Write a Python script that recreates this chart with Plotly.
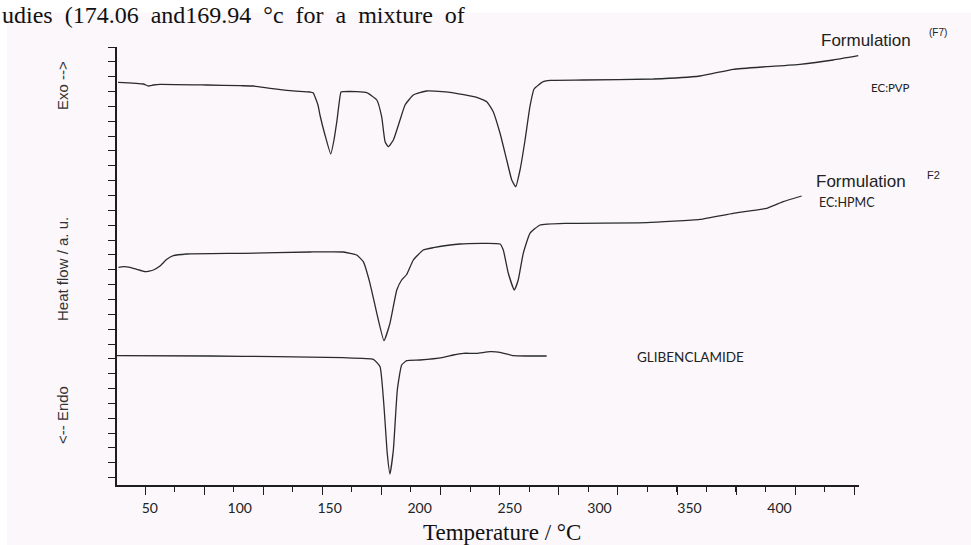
import plotly.graph_objects as go

# ---------------- data ----------------
# Formulation F7 (EC:PVP)
f7_temp = [32.4, 46.5, 49.2, 52.0, 55.7, 81.7, 100.2, 107.6, 116.9, 128.0, 139.1, 140.8,
           143.5, 144.6, 147.4, 150.6, 152.4, 154.1, 156.3, 157.6, 165.0, 170.6, 176.2,
           178.9, 180.8, 182.6, 185.4, 189.1, 191.9, 196.5, 203.9, 216.9, 231.7, 237.3,
           240.9, 244.7, 248.4, 251.2, 253.4, 255.8, 258.6, 261.3, 263.6, 268.7, 272.5,
           291.0, 329.9, 355.8, 374.3, 392.9, 411.4, 429.9, 443.8]
f7_heat = [40.27, 40.10, 39.90, 40.00, 40.07, 40.00, 39.93, 39.90, 39.67, 39.43, 39.30, 39.23,
           38.00, 37.00, 35.00, 33.10, 34.50, 36.50, 39.30, 39.33, 39.33, 39.23, 38.50,
           36.83, 34.33, 33.83, 34.50, 36.50, 38.00, 39.00, 39.40, 39.27, 38.77, 38.33,
           37.33, 35.17, 32.50, 30.50, 29.83, 31.50, 34.50, 37.83, 39.60, 40.33, 40.47,
           40.50, 40.60, 40.90, 41.57, 41.83, 42.07, 42.50, 42.93]

# Formulation F2 (EC:HPMC)
f2_temp = [32.6, 35.3, 39.1, 42.8, 47.4, 52.0, 55.7, 59.5, 63.1, 70.6, 102.0, 139.1, 157.6,
           165.0, 168.7, 172.4, 176.2, 180.2, 183.5, 187.3, 190.0, 192.8, 196.5, 202.0,
           207.6, 222.4, 244.7, 246.5, 249.3, 252.6, 254.8, 257.6, 261.3, 266.9, 281.7,
           326.2, 355.8, 374.3, 392.9, 402.1, 412.3]
f2_heat = [21.77, 21.83, 21.77, 21.57, 21.33, 21.50, 21.90, 22.57, 22.93, 23.10, 23.17, 23.30,
           23.30, 23.00, 22.33, 20.17, 17.17, 14.43, 16.17, 19.50, 20.50, 21.05, 22.50,
           23.50, 23.73, 24.10, 24.10, 23.50, 21.17, 19.50, 20.50, 23.17, 25.17, 26.00,
           26.17, 26.23, 26.57, 27.17, 27.67, 28.33, 28.90]

# Glibenclamide (pure drug)
gl_temp = [31.7, 83.5, 120.6, 157.6, 174.3, 178.0, 180.2, 182.0, 183.5, 185.4, 187.6, 190.0,
           192.8, 200.2, 213.2, 218.7, 224.3, 231.7, 239.1, 244.7, 252.1, 259.5, 270.6]
gl_heat = [12.93, 12.90, 12.83, 12.73, 12.57, 11.83, 7.83, 3.17, 1.10, 3.50, 9.50, 12.00,
           12.43, 12.50, 12.77, 13.00, 13.17, 13.17, 13.33, 13.27, 12.93, 12.90, 12.90]

x_label_vals = [50, 100, 150, 200, 250, 300, 350, 400]
x_label_text = ["50", "100", "150", "200", "250", "300", "350", "400"]

# ---------------- layout geometry ----------------
W, H = 971, 545
ML, MR, MT, MB = 117, 112, 47, 60
X_RANGE = [31.8, 444.2]
Y_RANGE = [0, 43.8]
PW = W - ML - MR
PH = H - MT - MB


def px_x(px):
    return (px - ML) / PW


def px_y(py):
    return (H - MB - py) / PH


LINE = "#2b2b2b"
AXIS = "#1e1e1e"

fig = go.Figure()
for xs, ys in [(f7_temp, f7_heat), (f2_temp, f2_heat), (gl_temp, gl_heat)]:
    fig.add_trace(go.Scatter(x=xs, y=ys, mode="lines",
                             line=dict(color=LINE, width=1.3, shape="spline", smoothing=0.4),
                             hoverinfo="skip", showlegend=False))

# invisible carrier so the label axis (xaxis2) is drawn
fig.add_trace(go.Scatter(x=x_label_vals, y=[None] * len(x_label_vals), xaxis="x2",
                         mode="markers", marker=dict(opacity=0), hoverinfo="skip",
                         showlegend=False))

annots = []


def note(text, px, py, size, family="Liberation Sans", color="#222", angle=0,
         xanchor="center", yanchor="middle"):
    annots.append(dict(text=text, x=px_x(px), y=px_y(py), xref="paper", yref="paper",
                       showarrow=False, textangle=angle, xanchor=xanchor, yanchor=yanchor,
                       font=dict(family=family, size=size, color=color)))


SP = " \u00a0"  # justified-looking word spacing of the scanned text line
top_line = SP.join(["udies", "(174.06", "and169.94", "°c", "for", "a", "mixture", "of"])
note(top_line, 0, 15, 24, family="Liberation Serif", color="#111", xanchor="left")
note("Formulation", 866, 41, 17)
note("(F7)", 938, 33, 10)
note("EC:PVP", 890, 87, 11.5, family="Lato")
note("Formulation", 861, 181, 17)
note("F2", 933, 175, 11)
note("EC:HPMC", 847, 202, 12.5, family="Lato")
note("GLIBENCLAMIDE", 690, 357, 13.5, family="Lato")
note("Temperature / °C", 502, 532, 23, family="Liberation Serif", color="#111")
note("Exo -->", 62, 86, 15, angle=-90, color="#333")
note("Heat flow / a. u.", 62, 269, 15, angle=-90, color="#333")
note("<-- Endo", 62, 415, 15, angle=-90, color="#333")

fig.update_layout(
    width=W, height=H,
    margin=dict(l=ML, r=MR, t=MT, b=MB, pad=0),
    paper_bgcolor="#ffffff",
    plot_bgcolor="rgba(0,0,0,0)",
    annotations=annots,
    shapes=[dict(type="rect", xref="paper", yref="paper", layer="below",
                 x0=px_x(7), x1=px_x(W + 5), y0=px_y(H + 5), y1=px_y(12.7),
                 line=dict(width=0), fillcolor="#fbf7fb")],
    xaxis=dict(range=X_RANGE, showgrid=False, zeroline=False, showline=True,
               linecolor=AXIS, linewidth=1.5, ticks="outside", ticklen=8, tickwidth=1.4,
               tickcolor=AXIS, tickmode="linear", tick0=47.4, dtick=32.85,
               showticklabels=False,
               minor=dict(ticks="outside", ticklen=5, tickwidth=1.2, tickcolor=AXIS,
                          tick0=30.98, dtick=16.42, showgrid=False)),
    xaxis2=dict(range=X_RANGE, overlaying="x", side="bottom", anchor="y",
                showgrid=False, zeroline=False, showline=False, ticks="",
                tickmode="array", tickvals=x_label_vals, ticktext=x_label_text,
                ticklabelstandoff=13,
                tickfont=dict(family="Lato", size=14, color="#222")),
    yaxis=dict(range=Y_RANGE, showgrid=False, zeroline=False, showline=True,
               linecolor=AXIS, linewidth=1.5, ticks="outside", ticklen=7, tickwidth=1.3,
               tickcolor=AXIS, tickmode="linear", tick0=43.8, dtick=1.485,
               showticklabels=False),
)

fig.write_html("out.html")
